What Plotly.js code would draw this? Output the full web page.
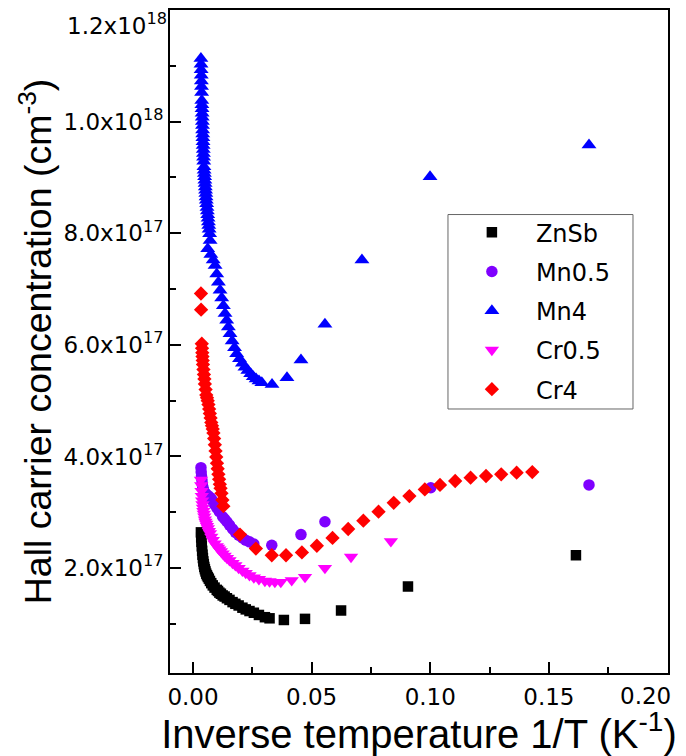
<!DOCTYPE html>
<html>
<head>
<meta charset="utf-8">
<script src="https://cdn.plot.ly/plotly-3.0.1.min.js"></script>
<style>html,body{margin:0;padding:0;background:#fff;}#chart{width:686px;height:756px;}</style>
</head>
<body>
<div id="chart"></div>
<script>
// Inverse temperature 1/T (K^-1) and Hall carrier concentration (cm^-3)
const znsbX = [0.00333,0.00345,0.00357,0.0037,0.00385,0.0040,0.00417,0.00435,0.00455,0.00476,0.0050,0.00526,0.00556,0.00588,0.00625,0.00667,0.00714,0.00769,0.00833,0.00909,0.0100,0.01053,0.01111,0.01176,0.0125,0.01333,0.01429,0.01538,0.01667,0.01786,0.01923,0.02083,0.02222,0.02381,0.02564,0.02778,0.0303,0.03226,0.0383,0.0472,0.0624,0.0906,0.1614];
const znsbY = [2.64e17,2.55e17,2.47e17,2.39e17,2.31e17,2.24e17,2.18e17,2.12e17,2.07e17,2.02e17,1.98e17,1.94e17,1.90e17,1.87e17,1.84e17,1.81e17,1.77e17,1.73e17,1.69e17,1.65e17,1.61e17,1.59e17,1.56e17,1.54e17,1.51e17,1.49e17,1.46e17,1.43e17,1.39e17,1.36e17,1.33e17,1.29e17,1.26e17,1.23e17,1.20e17,1.16e17,1.12e17,1.10e17,1.07e17,1.09e17,1.24e17,1.67e17,2.23e17];

const mn05X = [0.00335,0.00345,0.00357,0.0037,0.00385,0.0040,0.00417,0.00435,0.00455,0.00476,0.0050,0.00556,0.00625,0.00714,0.00769,0.00833,0.00909,0.0100,0.0111,0.0125,0.01333,0.01429,0.01538,0.01667,0.01786,0.01923,0.02083,0.02222,0.02381,0.02564,0.0332,0.0455,0.0556,0.1002,0.1669];
const mn05Y = [3.80e17,3.72e17,3.65e17,3.59e17,3.53e17,3.48e17,3.44e17,3.41e17,3.38e17,3.36e17,3.34e17,3.32e17,3.30e17,3.27e17,3.24e17,3.20e17,3.14e17,3.08e17,3.01e17,2.92e17,2.88e17,2.83e17,2.77e17,2.70e17,2.64e17,2.59e17,2.54e17,2.50e17,2.47e17,2.43e17,2.41e17,2.60e17,2.83e17,3.44e17,3.49e17];

const mn4X = [0.00333,0.00338,0.00343,0.00348,0.00353,0.00358,0.00363,0.0037,0.00375,0.0038,0.00385,0.0039,0.00395,0.0040,0.00405,0.0041,0.00416,0.00422,0.00428,0.00434,0.0044,0.00446,0.00452,0.0046,0.0047,0.0048,0.0049,0.0050,0.0051,0.0052,0.0053,0.0054,0.0055,0.0056,0.00575,0.0059,0.00605,0.0062,0.00635,0.0065,0.00665,0.0068,0.0070,0.0072,0.0062,0.0075,0.0085,0.0093,0.0100,0.0107,0.0114,0.0121,0.0128,0.0135,0.0142,0.0149,0.0156,0.0165,0.0175,0.0184,0.0196,0.0208,0.0219,0.0231,0.0243,0.0254,0.0266,0.0278,0.0290,0.0333,0.0396,0.0455,0.0556,0.0712,0.0999,0.1669];
const mn4Y = [11.13e17,11.03e17,10.93e17,10.83e17,10.73e17,10.63e17,10.52e17,10.38e17,10.30e17,10.23e17,10.15e17,10.08e17,10.00e17,9.93e17,9.85e17,9.78e17,9.71e17,9.64e17,9.57e17,9.50e17,9.43e17,9.36e17,9.29e17,9.19e17,9.13e17,9.07e17,9.01e17,8.95e17,8.89e17,8.83e17,8.77e17,8.71e17,8.65e17,8.59e17,8.53e17,8.46e17,8.40e17,8.33e17,8.27e17,8.20e17,8.14e17,8.07e17,7.99e17,7.87e17,7.72e17,7.62e17,7.52e17,7.42e17,7.27e17,7.12e17,6.98e17,6.84e17,6.70e17,6.56e17,6.44e17,6.32e17,6.20e17,6.07e17,5.95e17,5.84e17,5.75e17,5.67e17,5.60e17,5.54e17,5.48e17,5.43e17,5.39e17,5.35e17,5.32e17,5.29e17,5.41e17,5.73e17,6.37e17,7.52e17,9.01e17,9.58e17];

const cr05X = [0.00335,0.00345,0.00357,0.0037,0.00385,0.0040,0.00417,0.00435,0.00455,0.00476,0.0050,0.00526,0.00556,0.00588,0.00625,0.00667,0.00714,0.00769,0.00833,0.00909,0.0100,0.01053,0.01111,0.01176,0.0125,0.01333,0.01429,0.01538,0.01667,0.01786,0.01923,0.02083,0.02222,0.02381,0.02564,0.02778,0.0303,0.03226,0.0345,0.0370,0.0416,0.0472,0.0556,0.0666,0.0834];
const cr05Y = [3.58e17,3.48e17,3.38e17,3.29e17,3.21e17,3.14e17,3.08e17,3.02e17,2.97e17,2.92e17,2.87e17,2.83e17,2.79e17,2.75e17,2.71e17,2.66e17,2.62e17,2.56e17,2.50e17,2.44e17,2.39e17,2.36e17,2.33e17,2.30e17,2.26e17,2.22e17,2.18e17,2.14e17,2.09e17,2.05e17,2.00e17,1.95e17,1.91e17,1.87e17,1.83e17,1.80e17,1.77e17,1.76e17,1.75e17,1.75e17,1.78e17,1.84e17,2.00e17,2.20e17,2.48e17];

const cr4X = [0.00335,0.0034,0.0037,0.0038,0.0039,0.0040,0.0041,0.0042,0.0044,0.0046,0.0048,0.0050,0.0053,0.0056,0.0059,0.0062,0.0065,0.0068,0.0071,0.0074,0.0077,0.0080,0.0083,0.0086,0.0089,0.0092,0.0095,0.0098,0.0101,0.0104,0.0107,0.0110,0.0113,0.0116,0.0120,0.0124,0.0128,0.0198,0.0265,0.0332,0.0392,0.0459,0.0522,0.0588,0.0654,0.0718,0.0782,0.0846,0.0912,0.0977,0.1041,0.1105,0.1170,0.1235,0.1299,0.1364,0.1430];
const cr4Y = [6.92e17,6.63e17,6.02e17,5.94e17,5.86e17,5.79e17,5.72e17,5.65e17,5.56e17,5.47e17,5.39e17,5.30e17,5.20e17,5.10e17,5.05e17,5.00e17,4.93e17,4.85e17,4.77e17,4.69e17,4.61e17,4.55e17,4.49e17,4.42e17,4.32e17,4.21e17,4.10e17,3.99e17,3.88e17,3.78e17,3.68e17,3.59e17,3.50e17,3.43e17,3.34e17,3.22e17,3.11e17,2.60e17,2.35e17,2.23e17,2.23e17,2.28e17,2.40e17,2.54e17,2.70e17,2.85e17,3.01e17,3.17e17,3.29e17,3.41e17,3.49e17,3.56e17,3.62e17,3.65e17,3.68e17,3.71e17,3.72e17];

const seriesNames = ["ZnSb","Mn0.5","Mn4","Cr0.5","Cr4"];
const yTickVals = [2e17,4e17,6e17,8e17,1e18,1.2e18];
const yTickText = ["2.0x10<sup>17</sup>","4.0x10<sup>17</sup>","6.0x10<sup>17</sup>","8.0x10<sup>17</sup>","1.0x10<sup>18</sup>",""];
const yTopLabel = "1.2x10<sup>18</sup>";
const yMinorVals = [1e17,3e17,5e17,7e17,9e17,1.1e18];
const xTickVals = [0,0.05,0.10,0.15,0.20];
const xTickText = ["0.00","0.05","0.10","0.15",""];
const xLastLabel = "0.20";
const xMinorVals = [0.025,0.075,0.125,0.175];

const TITLEFONT = "Liberation Sans, Arial, sans-serif";
const TICKFONT = "DejaVu Sans, sans-serif";
function tr(x, y, name, symbol, color, size) {
  return {x: x, y: y, name: name, type: "scatter", mode: "markers",
    legendgroup: name,
    marker: {symbol: symbol, color: color, size: size, line: {width: 0}}};
}
const data = [
  tr(znsbX, znsbY, seriesNames[0], "square", "#000000", 10.5),
  tr(mn05X, mn05Y, seriesNames[1], "circle", "#7f00ff", 11.5),
  tr(mn4X, mn4Y, seriesNames[2], "triangle-up", "#0000ff", 13),
  tr(cr05X, cr05Y, seriesNames[3], "triangle-down", "#ff00ff", 12.5),
  tr(cr4X, cr4Y, seriesNames[4], "diamond", "#ff0000", 11)
];
const layout = {
  width: 686, height: 756,
  margin: {l: 170, r: 18, t: 10, b: 83},
  paper_bgcolor: "#fff", plot_bgcolor: "#fff",
  font: {family: TITLEFONT, color: "#000"},
  showlegend: true,
  legend: {x: 0.558, y: 0.698, xanchor: "left", yanchor: "top",
    bgcolor: "rgba(0,0,0,0)", borderwidth: 0,
    font: {family: TICKFONT, size: 24, color: "#000"},
    traceorder: "grouped", tracegroupgap: 5, itemwidth: 78},
  shapes: [
    {type: "rect", xref: "paper", yref: "paper", x0: 0.5582, x1: 0.9297, y0: 0.3982, y1: 0.6915,
     line: {color: "#666", width: 1}, fillcolor: "#fff", layer: "above"}
  ],
  xaxis: {range: [-0.0097, 0.2002], tickmode: "array", tickvals: xTickVals, ticktext: xTickText,
    ticks: "inside", ticklen: 11, tickwidth: 2, tickcolor: "#000",
    showline: true, linecolor: "#000", linewidth: 2, mirror: true,
    showgrid: false, zeroline: false, ticklabelstandoff: 2,
    tickfont: {family: TICKFONT, size: 23, color: "#000"},
    minor: {tickmode: "array", tickvals: xMinorVals, ticks: "inside", ticklen: 6, tickwidth: 2, tickcolor: "#000", showgrid: false},
    title: {text: "Inverse temperature 1/T (K<sup>-1</sup>)", font: {family: TITLEFONT, size: 40, color: "#000"}, standoff: 0}},
  yaxis: {range: [0.12e17, 12.0e17], tickmode: "array", tickvals: yTickVals, ticktext: yTickText,
    ticks: "inside", ticklen: 11, tickwidth: 2, tickcolor: "#000",
    showline: true, linecolor: "#000", linewidth: 2, mirror: true,
    showgrid: false, zeroline: false,
    tickfont: {family: TICKFONT, size: 23, color: "#000"},
    minor: {tickmode: "array", tickvals: yMinorVals, ticks: "inside", ticklen: 6, tickwidth: 2, tickcolor: "#000", showgrid: false},
    title: {text: "Hall carrier concentration (cm<sup>-3</sup>)", font: {family: TITLEFONT, size: 37.5, color: "#000"}, standoff: 0}},
  annotations: [
    {xref: "paper", yref: "y", x: 0, y: 1.2e18, xanchor: "right", yanchor: "middle", xshift: -1, yshift: -14,
     text: yTopLabel, showarrow: false, font: {family: TICKFONT, size: 23, color: "#000"}},
    {xref: "x", yref: "paper", x: 0.20, y: 0, xanchor: "center", yanchor: "top", xshift: -22, yshift: -8,
     text: xLastLabel, showarrow: false, font: {family: TICKFONT, size: 23, color: "#000"}}
  ]
};
Plotly.newPlot("chart", data, layout, {displayModeBar: false, staticPlot: true});
</script>
</body>
</html>
